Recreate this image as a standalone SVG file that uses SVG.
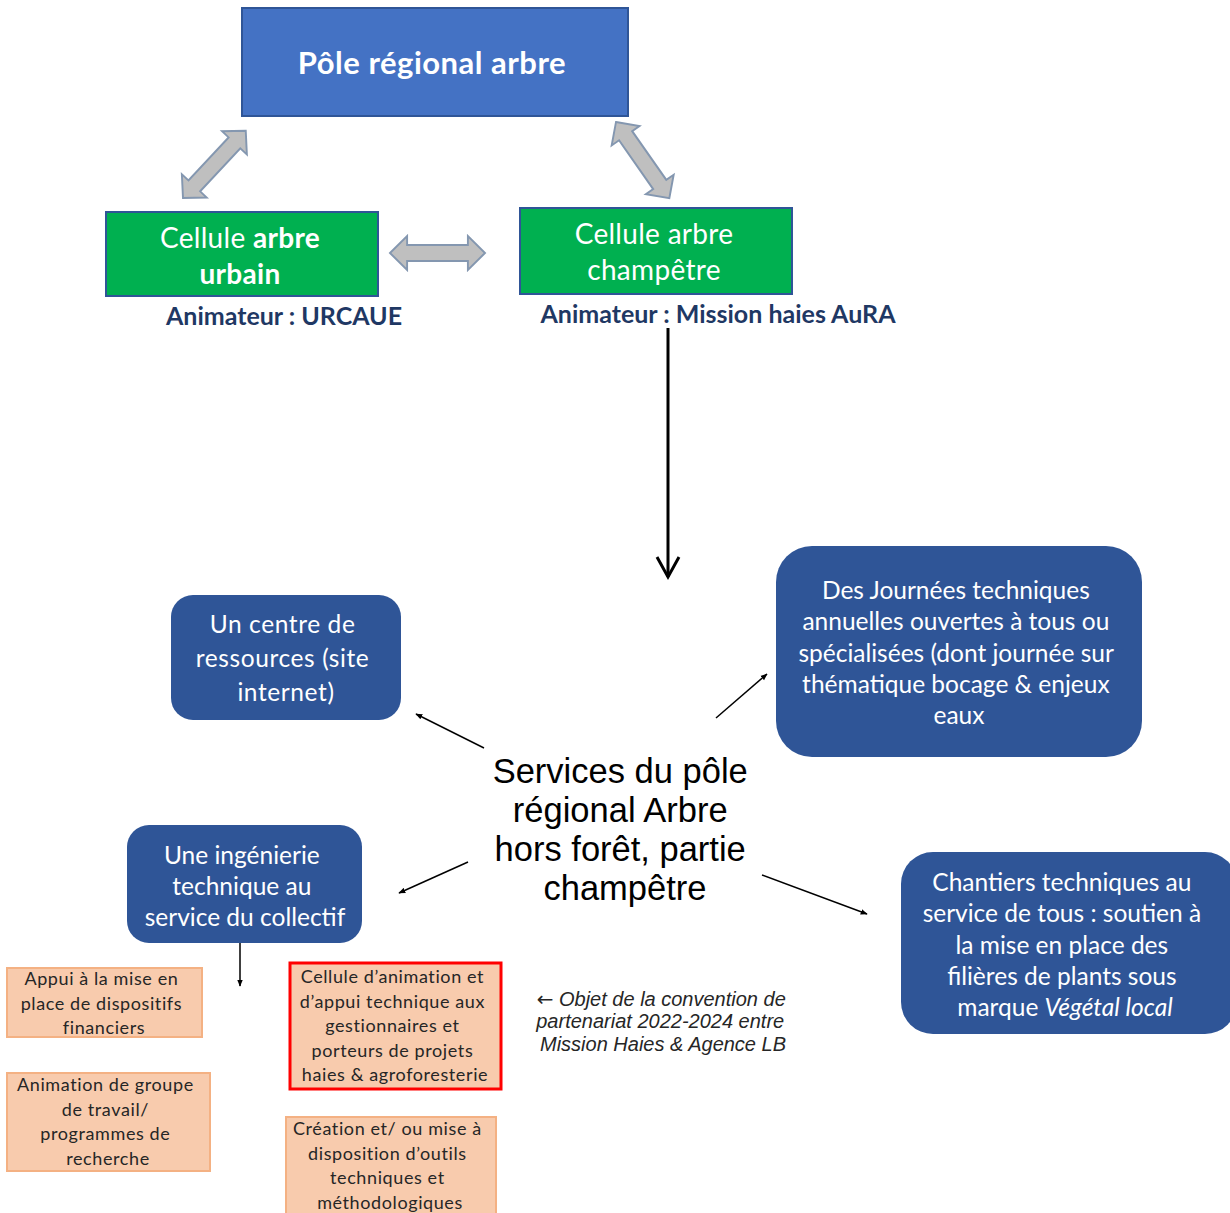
<svg xmlns="http://www.w3.org/2000/svg" width="1230" height="1213" viewBox="0 0 1230 1213">
  <style>
    .cal { font-family: Lato, "Open Sans", "DejaVu Sans", sans-serif; }
    .white { fill: #ffffff; }
    .top { fill: #4472C4; stroke: #2F5597; stroke-width: 2; }
    .green { fill: #00B050; stroke: #2F5597; stroke-width: 2; }
    .svc { fill: #2F5597; }
    .peach { fill: #F8CBAD; stroke: #F4B183; stroke-width: 2; }
    .red { fill: #F8CBAD; stroke: #FF0000; stroke-width: 3; }
    .dbl { fill: #BFBFBF; stroke: #8497B0; stroke-width: 2; stroke-linejoin: miter; }
    .thin { stroke: #000000; stroke-width: 1.5; fill: none; }
    .ptxt { font-size: 18px; letter-spacing: 0.6px; fill: #262626; text-anchor: middle; }
    .btxt { font-size: 24.5px; fill: #ffffff; text-anchor: middle; }
    .anim { font-size: 25px; font-weight: bold; fill: #1F3864; }
  </style>
  <defs>
    <marker id="ah" viewBox="0 0 10 10" refX="9" refY="5" markerWidth="7" markerHeight="7" orient="auto" markerUnits="userSpaceOnUse">
      <path d="M0,1 L10,5 L0,9 Z" fill="#000000"/>
    </marker>
    <!-- gray block double-arrow, drawn horizontally, length 100 -->
    <path id="dblarrow" d="M0,0 L18,-17 L18,-8 L82,-8 L82,-17 L100,0 L82,17 L82,8 L18,8 L18,17 Z"/>
  </defs>

  <!-- connectors -->
  <g id="connectors">
    <use href="#dblarrow" class="dbl" transform="translate(183,198) rotate(-47) scale(0.92,1)"/>
    <use href="#dblarrow" class="dbl" transform="translate(616,122) rotate(55) scale(0.93,1)"/>
    <use href="#dblarrow" class="dbl" transform="translate(390,253) scale(0.95,1)"/>
    <line x1="668" y1="328" x2="668" y2="577" stroke="#000000" stroke-width="3"/>
    <path d="M657,557 L668,577 L679,557" fill="none" stroke="#000000" stroke-width="3"/>
    <line class="thin" x1="484" y1="748" x2="416" y2="714" marker-end="url(#ah)"/>
    <line class="thin" x1="716" y1="718" x2="767" y2="674" marker-end="url(#ah)"/>
    <line class="thin" x1="468" y1="862" x2="399" y2="893" marker-end="url(#ah)"/>
    <line class="thin" x1="762" y1="875" x2="867" y2="914" marker-end="url(#ah)"/>
    <line class="thin" x1="240" y1="943" x2="240" y2="986" marker-end="url(#ah)"/>
  </g>

  <!-- top: regional hub -->
  <g id="pole">
    <rect class="top" x="242" y="8" width="386" height="108"/>
    <text class="cal white" x="432" y="74" font-size="31" font-weight="bold" text-anchor="middle" letter-spacing="0.5">Pôle régional arbre</text>
  </g>

  <g id="cellule-urbain">
    <rect class="green" x="106" y="212" width="272" height="84"/>
    <text class="cal white" x="240" y="248" font-size="28" text-anchor="middle" letter-spacing="0.3">Cellule <tspan font-weight="bold">arbre</tspan></text>
    <text class="cal white" x="240" y="284" font-size="28" font-weight="bold" text-anchor="middle" letter-spacing="0.3">urbain</text>
    <text class="cal anim" x="284" y="325" text-anchor="middle">Animateur : URCAUE</text>
  </g>

  <g id="cellule-champetre">
    <rect class="green" x="520" y="208" width="272" height="86"/>
    <text class="cal white" x="654" y="244" font-size="28" text-anchor="middle" letter-spacing="0.3">Cellule arbre</text>
    <text class="cal white" x="654" y="280" font-size="28" text-anchor="middle" letter-spacing="0.3">champêtre</text>
    <text class="cal anim" x="718" y="323" text-anchor="middle">Animateur : Mission haies AuRA</text>
  </g>

  <!-- services -->
  <g id="services">
    <text font-family="'Liberation Sans', Arial, sans-serif" font-size="34.5" fill="#000000" text-anchor="middle">
      <tspan x="625" y="783">Services du pôle</tspan>
      <tspan x="625" y="822">régional Arbre</tspan>
      <tspan x="625" y="861">hors forêt, partie</tspan>
      <tspan x="625" y="900">champêtre</tspan>
    </text>
  </g>

  <g id="centre-ressources">
    <rect class="svc" x="171" y="595" width="230" height="125" rx="22"/>
    <text class="cal btxt" font-size="27" letter-spacing="0.6">
      <tspan x="286" y="633">Un centre de</tspan>
      <tspan x="286" y="667">ressources (site</tspan>
      <tspan x="286" y="701">internet)</tspan>
    </text>
  </g>

  <g id="journees">
    <rect class="svc" x="776" y="546" width="366" height="211" rx="36"/>
    <text class="cal btxt">
      <tspan x="959" y="599">Des Journées techniques</tspan>
      <tspan x="959" y="630">annuelles ouvertes à tous ou</tspan>
      <tspan x="959" y="662">spécialisées (dont journée sur</tspan>
      <tspan x="959" y="693">thématique bocage &amp; enjeux</tspan>
      <tspan x="959" y="724">eaux</tspan>
    </text>
  </g>

  <g id="ingenierie">
    <rect class="svc" x="127" y="825" width="235" height="118" rx="22"/>
    <text class="cal btxt">
      <tspan x="245" y="864">Une ingénierie</tspan>
      <tspan x="245" y="895">technique au</tspan>
      <tspan x="245" y="926">service du collectif</tspan>
    </text>
  </g>

  <g id="chantiers">
    <rect class="svc" x="901" y="852" width="336" height="182" rx="32"/>
    <text class="cal btxt">
      <tspan x="1065" y="891">Chantiers techniques au</tspan>
      <tspan x="1065" y="922">service de tous : soutien à</tspan>
      <tspan x="1065" y="954">la mise en place des</tspan>
      <tspan x="1065" y="985">filières de plants sous</tspan>
      <tspan x="1065" y="1016">marque <tspan font-style="italic">Végétal local</tspan></tspan>
    </text>
  </g>

  <!-- detail boxes -->
  <g id="appui">
    <rect class="peach" x="7" y="968" width="195" height="69"/>
    <text class="cal ptxt">
      <tspan x="104" y="985">Appui à la mise en</tspan>
      <tspan x="104" y="1010">place de dispositifs</tspan>
      <tspan x="104" y="1034">financiers</tspan>
    </text>
  </g>

  <g id="animation">
    <rect class="peach" x="7" y="1073" width="203" height="98"/>
    <text class="cal ptxt">
      <tspan x="108" y="1091">Animation de groupe</tspan>
      <tspan x="108" y="1116">de travail/</tspan>
      <tspan x="108" y="1140">programmes de</tspan>
      <tspan x="108" y="1165">recherche</tspan>
    </text>
  </g>

  <g id="cellule-appui">
    <rect class="red" x="290" y="963" width="211" height="126"/>
    <text class="cal ptxt">
      <tspan x="395" y="983">Cellule d’animation et</tspan>
      <tspan x="395" y="1008">d’appui technique aux</tspan>
      <tspan x="395" y="1032">gestionnaires et</tspan>
      <tspan x="395" y="1057">porteurs de projets</tspan>
      <tspan x="395" y="1081">haies &amp; agroforesterie</tspan>
    </text>
  </g>

  <g id="outils">
    <rect class="peach" x="286" y="1117" width="210" height="100"/>
    <text class="cal ptxt">
      <tspan x="390" y="1135">Création et/ ou mise à</tspan>
      <tspan x="390" y="1160">disposition d’outils</tspan>
      <tspan x="390" y="1184">techniques et</tspan>
      <tspan x="390" y="1209">méthodologiques</tspan>
    </text>
  </g>

  <g id="convention">
    <text font-family="'Liberation Sans', Arial, sans-serif" font-size="20" font-style="italic" fill="#262626" text-anchor="middle">
      <tspan x="664" y="1006"><tspan font-style="normal" font-family="'DejaVu Sans', sans-serif">←</tspan> Objet de la convention de</tspan>
      <tspan x="663" y="1028">partenariat 2022-2024 entre</tspan>
      <tspan x="663" y="1051">Mission Haies &amp; Agence LB</tspan>
    </text>
  </g>
</svg>
